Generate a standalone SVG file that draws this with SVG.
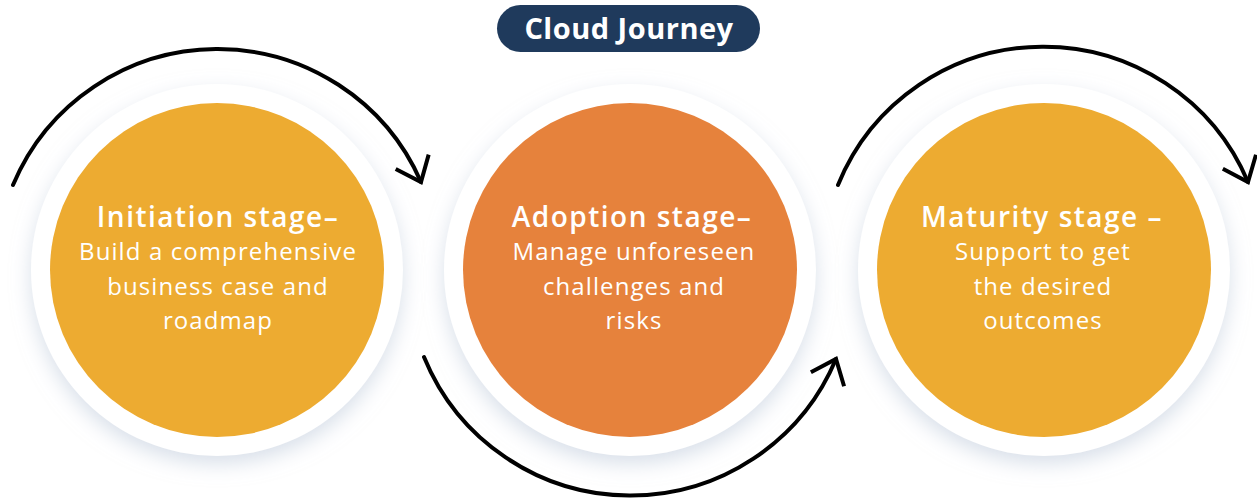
<svg xmlns="http://www.w3.org/2000/svg" width="1257" height="498" viewBox="0 0 1257 498">
<style>
.ring{fill:#ffffff;filter:url(#sh)}
.yel{fill:#EDAB31}
.org{fill:#E6823C}
.ttl{font-family:"Open Sans","Liberation Sans",sans-serif;font-weight:600;font-size:28px;letter-spacing:1.5px;fill:#ffffff;text-anchor:middle}
.body{font-family:"Open Sans","Liberation Sans",sans-serif;font-weight:400;font-size:24px;letter-spacing:1.1px;fill:#ffffff;text-anchor:middle}
.arc{fill:none;stroke:#000000;stroke-width:4;stroke-linecap:round}
</style>
<defs>
<filter id="sh" x="-30%" y="-30%" width="160%" height="170%">
<feDropShadow dx="0" dy="8" stdDeviation="10" flood-color="#b9c6d8" flood-opacity="0.55"/>
</filter>
<marker id="ah" markerUnits="userSpaceOnUse" markerWidth="40" markerHeight="40" viewBox="-30 -20 34 40" refX="0" refY="0" orient="auto">
<path d="M-22,-18 L0,0 L-22,18" fill="none" stroke="#000000" stroke-width="4" stroke-linecap="butt" stroke-linejoin="miter"/>
</marker>
</defs>
<rect width="1257" height="498" fill="#ffffff"/>
<g id="title">
<rect x="497" y="5" width="263" height="47" rx="23.5" fill="#1F3A5C"/>
<text x="629" y="39" font-family="'Open Sans','Liberation Sans',sans-serif" font-weight="700" font-size="29" letter-spacing="0.5" fill="#ffffff" text-anchor="middle">Cloud Journey</text>
</g>
<g id="node-initiation">
<circle class="ring" cx="217" cy="270" r="186"/>
<circle class="yel" cx="217" cy="270" r="167"/>
<text class="ttl" x="218" y="227">Initiation stage–</text>
<text class="body" x="218" y="260">Build a comprehensive</text>
<text class="body" x="218" y="295">business case and</text>
<text class="body" x="218" y="329">roadmap</text>
</g>
<g id="node-adoption">
<circle class="ring" cx="630" cy="270" r="186"/>
<circle class="org" cx="630" cy="270" r="167"/>
<text class="ttl" x="632" y="227">Adoption stage–</text>
<text class="body" x="634" y="260">Manage unforeseen</text>
<text class="body" x="634" y="295">challenges and</text>
<text class="body" x="634" y="329">risks</text>
</g>
<g id="node-maturity">
<circle class="ring" cx="1044" cy="270" r="186"/>
<circle class="yel" cx="1044" cy="270" r="167"/>
<text class="ttl" x="1042" y="227">Maturity stage –</text>
<text class="body" x="1043" y="260">Support to get</text>
<text class="body" x="1043" y="295">the desired</text>
<text class="body" x="1043" y="329">outcomes</text>
</g>
<g id="connectors">
<path class="arc" d="M13,185 A222,222 0 0 1 421,182" marker-end="url(#ah)"/>
<path class="arc" d="M424,357 A223,223 0 0 0 836,359" marker-end="url(#ah)"/>
<path class="arc" d="M838,185 A222,222 0 0 1 1248,182" marker-end="url(#ah)"/>
</g>
</svg>
